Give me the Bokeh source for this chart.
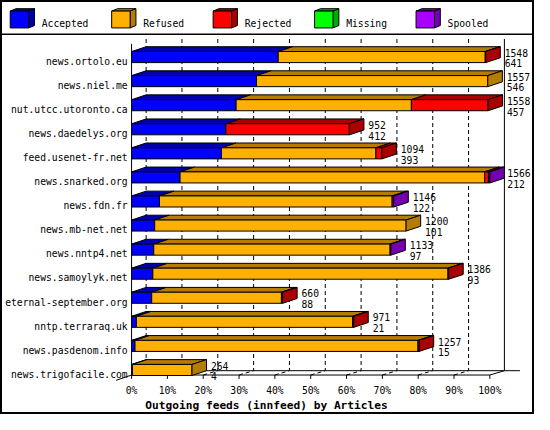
from bokeh.plotting import figure
from bokeh.models import Range1d
from bokeh.core.properties import value
from bokeh.embed import file_html
from bokeh.resources import INLINE

# ---------------- data ----------------
hosts = ["news.ortolo.eu", "news.niel.me", "nut.utcc.utoronto.ca", "news.daedelys.org",
         "feed.usenet-fr.net", "news.snarked.org", "news.fdn.fr", "news.mb-net.net",
         "news.nntp4.net", "news.samoylyk.net", "eternal-september.org", "nntp.terraraq.uk",
         "news.pasdenom.info", "news.trigofacile.com"]
offered  = [1548, 1557, 1558, 952, 1094, 1566, 1146, 1200, 1133, 1386, 660, 971, 1257, 264]
accepted = [641, 546, 457, 412, 393, 212, 122, 101, 97, 93, 88, 21, 15, 4]
refused  = [905, 1011, 766, 0, 675, 1331, 1017, 1099, 1033, 1290, 567, 945, 1237, 260]
rejected = [2, 0, 335, 540, 26, 17, 0, 0, 0, 3, 5, 5, 5, 0]
missing  = [0, 0, 0, 0, 0, 0, 0, 0, 0, 0, 0, 0, 0, 0]
spooled  = [0, 0, 0, 0, 0, 6, 7, 0, 3, 0, 0, 0, 0, 0]
series_names = ["Accepted", "Refused", "Rejected", "Missing", "Spooled"]
tick_values = [0, 10, 20, 30, 40, 50, 60, 70, 80, 90, 100]
tick_labels = ["0%", "10%", "20%", "30%", "40%", "50%", "60%", "70%", "80%", "90%", "100%"]
x_title = "Outgoing feeds (innfeed) by Articles"

# ---------------- styles ----------------
front_colors = ["#0000ff", "#ffb000", "#ff0000", "#00ff00", "#aa00ff"]
dark_colors  = ["#0000aa", "#b47c00", "#aa0000", "#00aa00", "#7400b0"]
FONT = value("DejaVu Sans Mono")
FS = "9.7px"

# layout: design space is a 550x430 canvas, scaled onto the 534x414 figure
X0, PXPCT = 135.0, 3.69      # 0% position and px per percent (design space)
Y0, ROW = 59.0, 25.0         # first row centre and row pitch (design space)
def fx(px):
    return (px - X0) / PXPCT
def fy(py):
    return (py - Y0) / ROW

DX = 15 / PXPCT
DY = 5 / ROW
HT = 6 / ROW
HB = 5.5 / ROW

W, H = 534, 414
p = figure(width=W, height=H, output_backend="svg", toolbar_location=None,
           x_range=Range1d(fx(0), fx(550)), y_range=Range1d(fy(430), fy(0)),
           min_border=0, min_border_left=0, min_border_right=0,
           min_border_top=0, min_border_bottom=0)
p.xaxis.visible = False
p.yaxis.visible = False
p.xgrid.visible = False
p.ygrid.visible = False
p.outline_line_color = "black"
p.outline_line_width = 3
p.background_fill_color = "white"
p.border_fill_color = "white"

# ---------------- back wall & floor ----------------
y_back_top = fy(40)
y_back_bot = fy(384.5)
y_front = fy(389)
grid_x = [v + DX for v in tick_values[:-1]]
p.segment(x0=grid_x, y0=[y_back_top] * len(grid_x), x1=grid_x, y1=[y_back_bot] * len(grid_x),
          line_color="black", line_width=1, line_dash="4 3")
# right wall
p.segment(x0=[100 + DX], y0=[y_back_top], x1=[100 + DX], y1=[y_back_bot],
          line_color="black", line_width=1)
# floor diagonals (dashed) from front ticks to back
p.segment(x0=tick_values[:-1], y0=[y_front] * 10, x1=grid_x, y1=[y_back_bot] * 10,
          line_color="black", line_width=1, line_dash="4 3")
# back floor edge
p.segment(x0=[DX], y0=[y_back_bot], x1=[fx(535)], y1=[y_back_bot], line_color="black", line_width=1)
# front axis line
p.segment(x0=[0], y0=[y_front], x1=[100], y1=[y_front], line_color="black", line_width=1)
# right and left floor corners
p.segment(x0=[100, fx(119)], y0=[y_front, fy(394.5)], x1=[100 + DX, 0], y1=[y_back_bot, y_front],
          line_color="black", line_width=1)
# front ticks
p.segment(x0=tick_values, y0=[y_front] * 11, x1=tick_values, y1=[fy(393)] * 11,
          line_color="black", line_width=1)

# ---------------- bars ----------------
maxv = max(offered)
all_series = [accepted, refused, rejected, missing, spooled]
fl, fr, ft, fb, fc = [], [], [], [], []
txs, tys, tc = [], [], []
sxs, sys_, sc = [], [], []
ends = []
for i in range(len(hosts)):
    x = 0.0
    yt, yb = i - HT, i + HB
    last = None
    for k, vals in enumerate(all_series):
        v = vals[i] / maxv * 100.0
        if v <= 0:
            continue
        fl.append(x); fr.append(x + v); ft.append(yt); fb.append(yb); fc.append(front_colors[k])
        txs.append([x, x + v, x + v + DX, x + DX]); tys.append([yt, yt, yt - DY, yt - DY])
        tc.append(dark_colors[k])
        x += v
        last = dark_colors[k]
    sxs.append([x, x + DX, x + DX, x]); sys_.append([yt, yt - DY, yb - DY, yb]); sc.append(last)
    ends.append(x)

p.patches(xs=txs, ys=tys, fill_color=tc, line_color="black", line_width=1)
p.quad(left=fl, right=fr, top=ft, bottom=fb, fill_color=fc, line_color="black", line_width=1)
p.patches(xs=sxs, ys=sys_, fill_color=sc, line_color="black", line_width=1)

# left axis line
p.segment(x0=[0], y0=[fy(45)], x1=[0], y1=[y_front], line_color="black", line_width=1)

# ---------------- texts ----------------
rows = list(range(len(hosts)))
p.text(x=[fx(131)] * len(hosts), y=[r + 4.2 / ROW for r in rows], text=hosts,
       text_font=FONT, text_font_size=FS, text_align="right",
       text_baseline="alphabetic", text_color="black")

lab_x = [min(e + 19.5 / PXPCT, fx(522)) for e in ends]
p.text(x=lab_x, y=[r - 4.8 / ROW for r in rows], text=[str(v) for v in offered],
       text_font=FONT, text_font_size=FS, text_align="left",
       text_baseline="alphabetic", text_color="black")
p.text(x=lab_x, y=[r + 6.3 / ROW for r in rows], text=[str(v) for v in accepted],
       text_font=FONT, text_font_size=FS, text_align="left",
       text_baseline="alphabetic", text_color="black")

p.text(x=tick_values, y=[fy(405.5)] * 11, text=tick_labels,
       text_font=FONT, text_font_size=FS, text_align="center",
       text_baseline="alphabetic", text_color="black")

p.text(x=[fx(274)], y=[fy(420.5)], text=[x_title],
       text_font=FONT, text_font_size="11.2px", text_font_style="bold",
       text_align="center", text_baseline="alphabetic", text_color="black")

# ---------------- legend ----------------
p.segment(x0=[fx(0)], y0=[fy(35)], x1=[fx(550)], y1=[fy(35)], line_color="black", line_width=1.5)
lx = [10 + 104.5 * k for k in range(5)]
cf_l = [fx(a) for a in lx]
cf_r = [fx(a + 19) for a in lx]
p.patches(xs=[[fx(a), fx(a + 19), fx(a + 25), fx(a + 6)] for a in lx],
          ys=[[fy(11), fy(11), fy(8.5), fy(8.5)]] * 5,
          fill_color=dark_colors, line_color="black", line_width=1)
p.patches(xs=[[fx(a + 19), fx(a + 25), fx(a + 25), fx(a + 19)] for a in lx],
          ys=[[fy(11), fy(8.5), fy(26), fy(28.5)]] * 5,
          fill_color=dark_colors, line_color="black", line_width=1)
p.quad(left=cf_l, right=cf_r, top=[fy(11)] * 5, bottom=[fy(28.5)] * 5,
       fill_color=front_colors, line_color="black", line_width=1)
p.text(x=[fx(a + 32.5) for a in lx], y=[fy(24)] * 5, text=series_names,
       text_font=FONT, text_font_size=FS, text_align="left",
       text_baseline="alphabetic", text_color="black")

open("out.html", "w").write(file_html(p, INLINE))
